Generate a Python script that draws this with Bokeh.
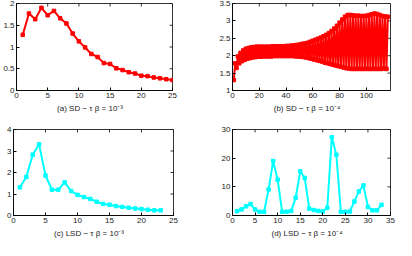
from bokeh.plotting import figure
from bokeh.layouts import column, row
from bokeh.models import FixedTicker, Range1d
from bokeh.embed import file_html
from bokeh.resources import INLINE

# ---------------- data ----------------
tau_a = list(range(1, 26))
sd_a = [1.28, 1.77, 1.64, 1.90, 1.73, 1.83, 1.66, 1.54, 1.31, 1.13, 0.99, 0.84, 0.77,
        0.63, 0.61, 0.51, 0.47, 0.42, 0.39, 0.34, 0.33, 0.30, 0.28, 0.26, 0.24]

# panel (b): alternating lower (odd tau) / upper (even tau) values
sd_b_odd = [1.30, 1.65, 1.78, 1.84, 1.88, 1.91, 1.93, 1.95, 1.96, 1.97, 1.97, 1.98, 1.98,
            1.98, 1.98, 1.99, 1.99, 1.99, 1.99, 1.99, 1.99, 1.99, 1.99, 1.98, 1.98, 1.97,
            1.96, 1.95, 1.93, 1.91, 1.89, 1.87, 1.85, 1.83, 1.80, 1.78, 1.76, 1.74, 1.72,
            1.70, 1.68, 1.66, 1.64, 1.63, 1.62, 1.62, 1.62, 1.62, 1.62, 1.62, 1.62, 1.62,
            1.62, 1.62, 1.62, 1.62, 1.63, 1.62]
sd_b_even = [1.78, 1.98, 2.08, 2.15, 2.20, 2.22, 2.24, 2.25, 2.26, 2.26, 2.26, 2.26, 2.26,
             2.26, 2.27, 2.27, 2.27, 2.27, 2.27, 2.28, 2.28, 2.29, 2.30, 2.31, 2.32, 2.34,
             2.35, 2.37, 2.40, 2.43, 2.46, 2.49, 2.52, 2.56, 2.60, 2.65, 2.71, 2.78, 2.86,
             2.95, 3.04, 3.12, 3.17, 3.17, 3.16, 3.15, 3.15, 3.14, 3.14, 3.15, 3.17, 3.19,
             3.21, 3.20, 3.17, 3.14, 3.13, 3.12]
sd_b = []
for lo, hi in zip(sd_b_odd, sd_b_even):
    sd_b += [lo, hi]
tau_b = list(range(1, len(sd_b) + 1))

tau_c = list(range(1, 24))
lsd_c = [1.31, 1.79, 2.83, 3.31, 1.86, 1.20, 1.20, 1.54, 1.14, 0.96, 0.86, 0.77, 0.64,
         0.54, 0.50, 0.44, 0.40, 0.36, 0.33, 0.30, 0.27, 0.24, 0.24]

tau_d = list(range(1, 34))
lsd_d = [1.5, 2.1, 3.2, 4.0, 2.1, 1.3, 1.3, 9.1, 19.0, 12.5, 1.3, 1.3, 1.6, 6.2, 15.4,
         13.1, 2.4, 1.9, 1.6, 1.4, 2.7, 27.3, 21.2, 1.3, 1.3, 1.4, 4.9, 8.4, 10.5, 3.0,
         1.8, 1.8, 3.7]

xt_a = [0, 5, 10, 15, 20, 25]
yt_a = [0, 0.5, 1, 1.5, 2]
yl_a = ["0", "0.5", "1", "1.5", "2"]
xt_b = [0, 20, 40, 60, 80, 100]
yt_b = [1, 1.5, 2, 2.5, 3, 3.5]
yl_b = ["1", "1.5", "2", "2.5", "3", "3.5"]
xt_c = [0, 5, 10, 15, 20, 25]
yt_c = [0, 1, 2, 3, 4]
xt_d = [0, 5, 10, 15, 20, 25, 30, 35]
yt_d = [0, 10, 20, 30]

cap_a = "(a)  SD − τ    β = 10⁻³"
cap_b = "(b)  SD − τ    β = 10⁻⁴"
cap_c = "(c)  LSD − τ    β = 10⁻³"
cap_d = "(d)  LSD − τ    β = 10⁻⁴"

FONT = "Liberation Sans"
W, H = 198, 120
TICK = 3


def panel(x, y, color, xr, yr, xt, yt, ylabels, caption, borders):
    left, right, top, bottom = borders
    p = figure(width=W, height=H, output_backend="svg", toolbar_location=None,
               x_range=Range1d(*xr), y_range=Range1d(*yr),
               min_border_left=left, min_border_right=right,
               min_border_top=top, min_border_bottom=bottom)
    p.grid.visible = False
    p.outline_line_color = "#000000"
    p.outline_line_width = 0.8
    p.background_fill_color = "white"
    p.border_fill_color = "white"
    for ax in (p.xaxis[0], p.yaxis[0]):
        ax.axis_line_color = "#000000"
        ax.axis_line_width = 0.8
        ax.major_tick_in = TICK
        ax.major_tick_out = 0
        ax.minor_tick_line_color = None
        ax.major_tick_line_color = "#000000"
        ax.major_label_text_font = FONT
        ax.major_label_text_font_size = "8px"
        ax.major_label_text_color = "#222222"
        ax.major_label_standoff = 2
    p.xaxis.ticker = FixedTicker(ticks=xt)
    p.yaxis.ticker = FixedTicker(ticks=yt)
    if ylabels is not None:
        p.yaxis.major_label_overrides = {v: s for v, s in zip(yt, ylabels)}
    p.xaxis.axis_label = caption
    p.xaxis.axis_label_text_font = FONT
    p.xaxis.axis_label_text_font_style = "normal"
    p.xaxis.axis_label_text_font_size = "8px"
    p.xaxis.axis_label_text_color = "#222222"
    p.xaxis.axis_label_standoff = 3

    # mirrored tick marks on the top and right frame edges
    fw = W - left - right
    fh = H - top - bottom
    dx = TICK * (xr[1] - xr[0]) / fw
    dy = TICK * (yr[1] - yr[0]) / fh
    p.segment(x0=xt, y0=[yr[1]] * len(xt), x1=xt, y1=[yr[1] - dy] * len(xt),
              line_color="#000000", line_width=0.8)
    p.segment(x0=[xr[1]] * len(yt), y0=yt, x1=[xr[1] - dx] * len(yt), y1=yt,
              line_color="#000000", line_width=0.8)

    p.line(x, y, line_color=color, line_width=2)
    p.scatter(x, y, marker="square", size=3.5, color=color)
    return p


pa = panel(tau_a, sd_a, "#ff0000", (0, 25), (0, 2), xt_a, yt_a, yl_a, cap_a, (13, 26, 3, 30))
pb = panel(tau_b, sd_b, "#ff0000", (0, 118), (1, 3.5), xt_b, yt_b, yl_b, cap_b, (34, 6, 3, 30))
pc = panel(tau_c, lsd_c, "#00ffff", (0, 25), (0, 4), xt_c, yt_c, None, cap_c, (13, 25, 9, 23))
pd = panel(tau_d, lsd_d, "#00ffff", (0, 35), (0, 30), xt_d, yt_d, None, cap_d, (34, 6, 9, 23))

layout = column(row(pa, pb), row(pc, pd))
open("out.html", "w").write(file_html(layout, INLINE))
